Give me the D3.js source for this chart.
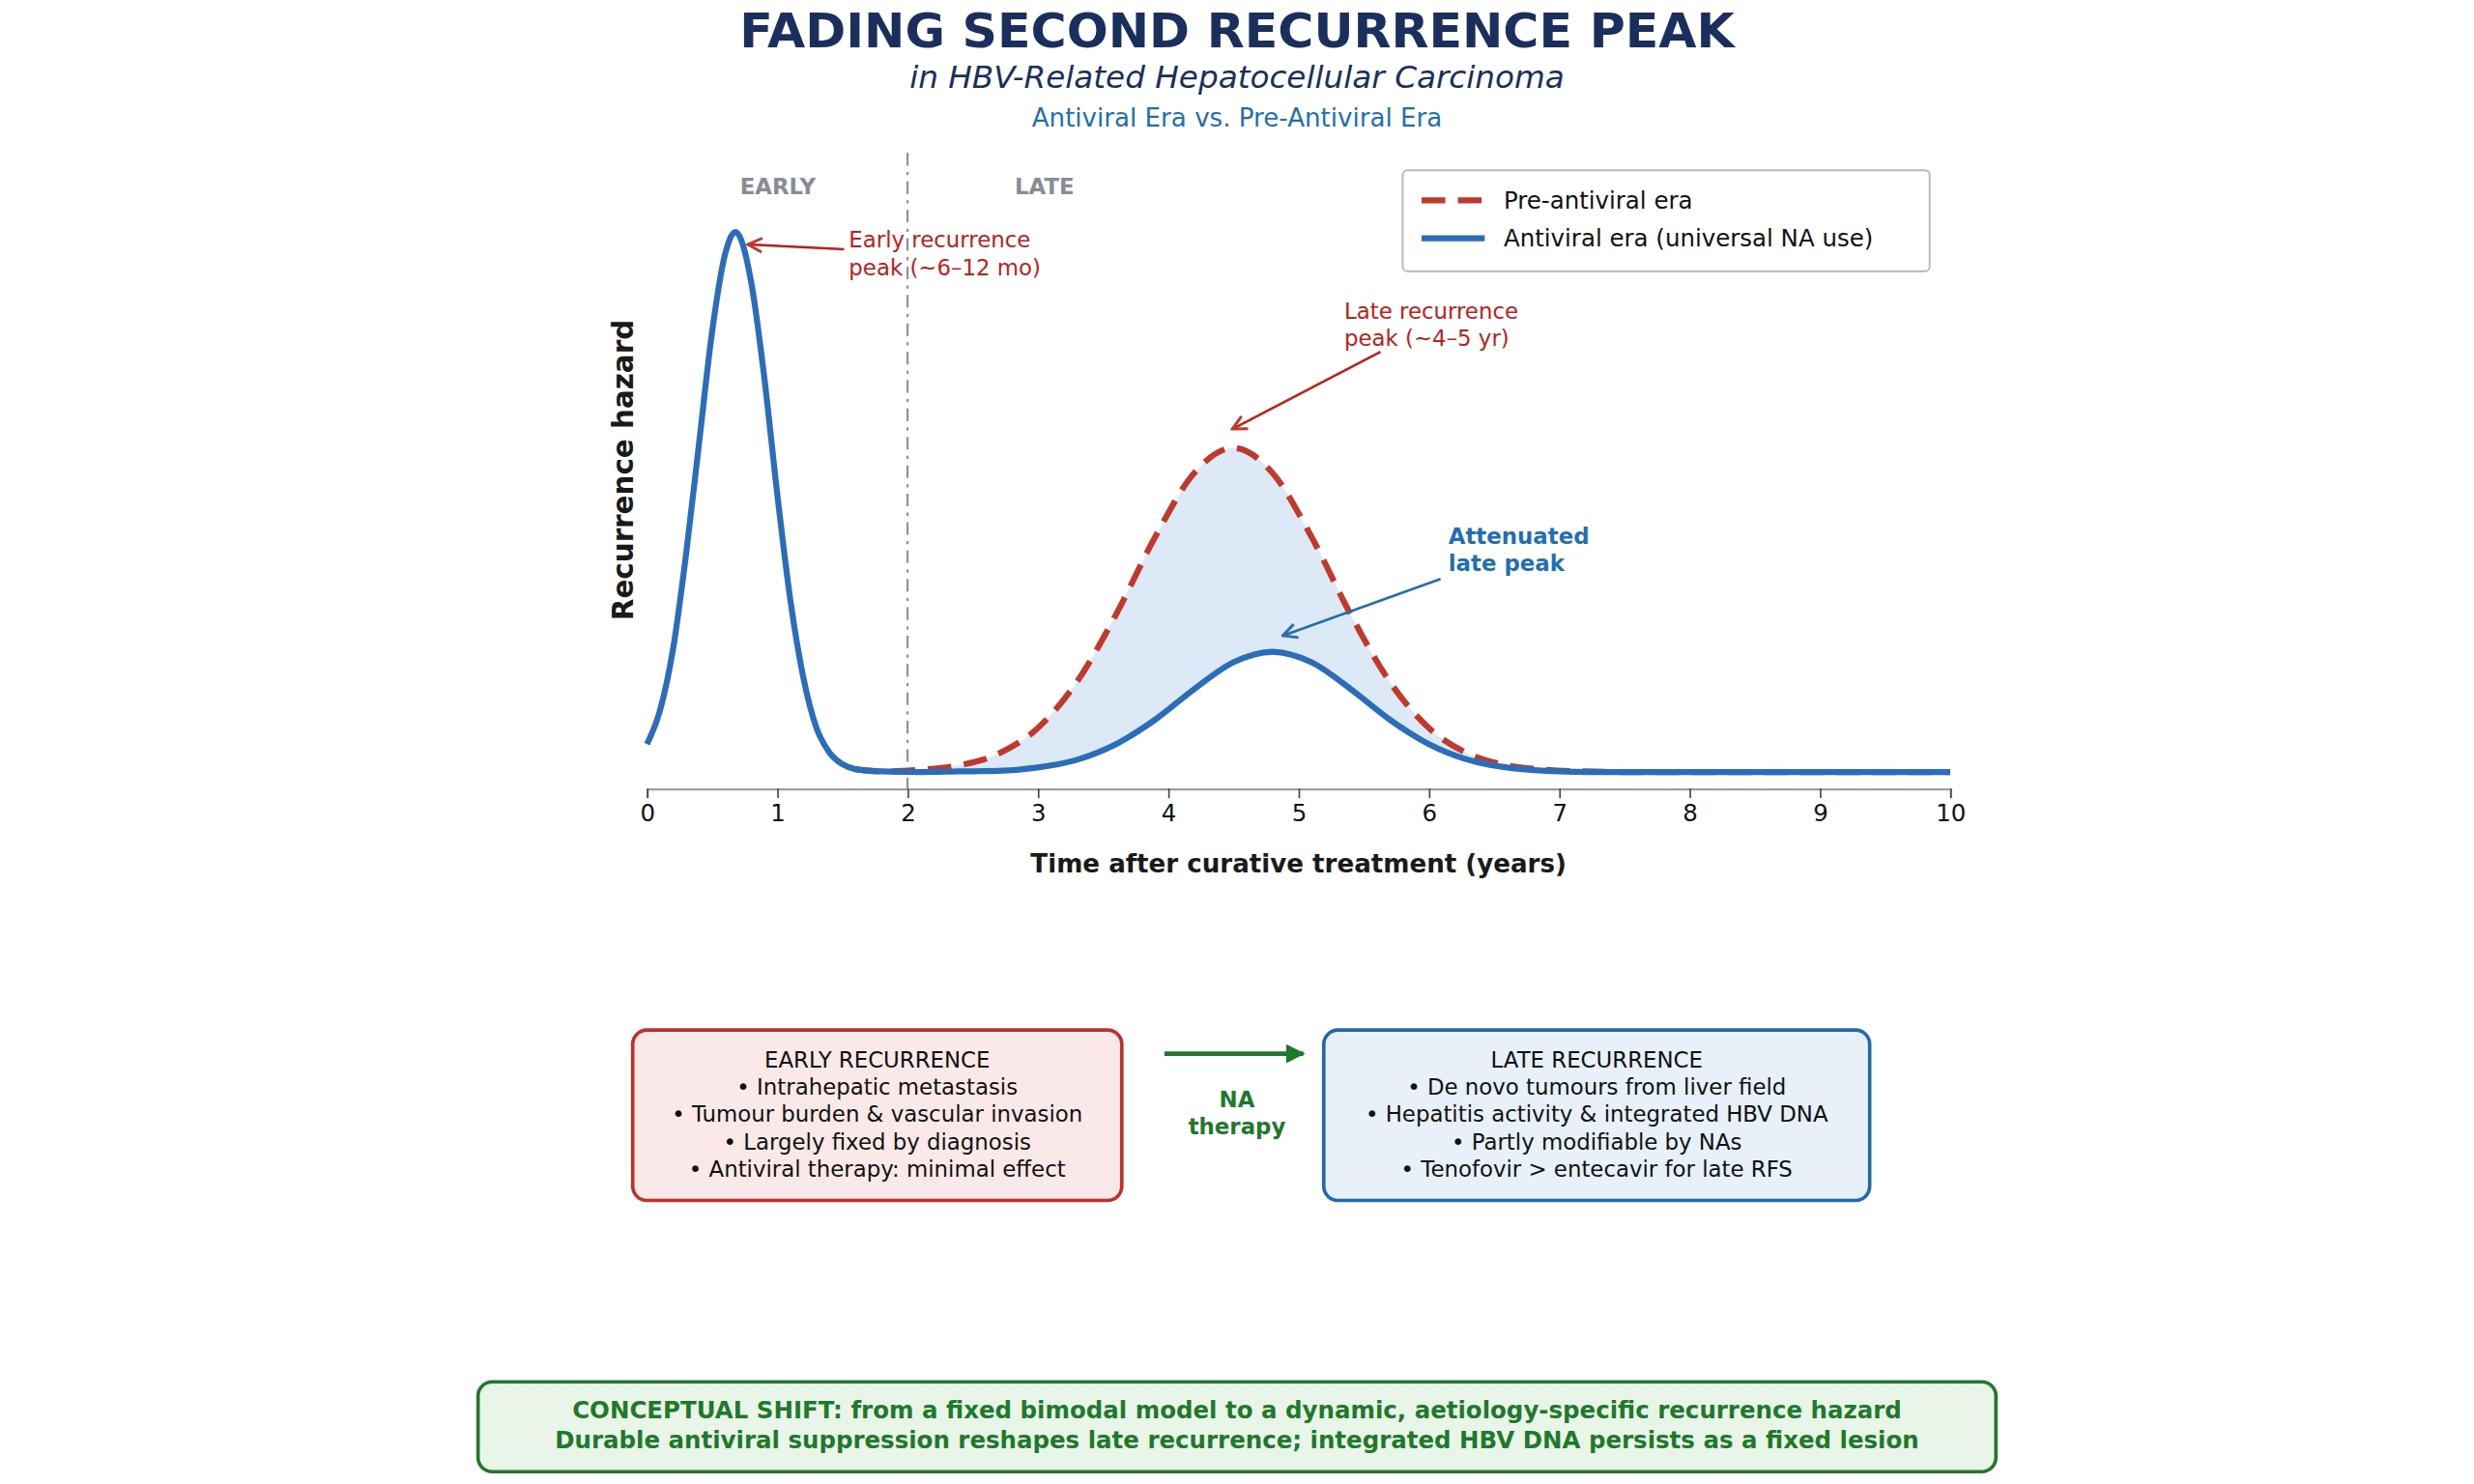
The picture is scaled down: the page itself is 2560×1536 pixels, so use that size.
<!DOCTYPE html>
<html>
<head>
<meta charset="utf-8">
<script src="https://cdn.jsdelivr.net/npm/d3@7"></script>
<style>
  body { margin: 0; background: #fff; }
  svg { display: block; font-family: "DejaVu Sans", sans-serif; }
</style>
</head>
<body>
<svg id="chart" width="2560" height="1536" viewBox="0 0 1568 940.8"></svg>
<script>
// values (hazard, relative units)
var years = [0, 0.1, 0.2, 0.3, 0.4, 0.5, 0.6, 0.68, 0.8, 0.9, 1.0, 1.1, 1.2, 1.3, 1.4, 1.5, 1.6, 1.8,
             2.1, 2.4, 2.7, 3.0, 3.3, 3.6, 3.9, 4.2, 4.5, 4.8, 5.1, 5.4, 5.7, 6.0, 6.3, 6.6, 6.9, 7.2, 7.5, 8, 9, 10];
var preAntiviral = [0.08, 0.14, 0.25, 0.42, 0.62, 0.82, 0.96, 1.0, 0.91, 0.74, 0.53, 0.34, 0.20, 0.11, 0.065, 0.044, 0.035, 0.031,
             0.034, 0.042, 0.063, 0.109, 0.192, 0.313, 0.452, 0.567, 0.612, 0.567, 0.452, 0.313, 0.192, 0.109, 0.063, 0.042, 0.034, 0.031, 0.03, 0.03, 0.03, 0.03];
var antiviral = [0.08, 0.14, 0.25, 0.42, 0.62, 0.82, 0.96, 1.0, 0.91, 0.74, 0.53, 0.34, 0.20, 0.11, 0.065, 0.044, 0.035, 0.031,
             0.030, 0.031, 0.032, 0.038, 0.052, 0.080, 0.124, 0.179, 0.227, 0.246, 0.227, 0.179, 0.124, 0.080, 0.052, 0.038, 0.032, 0.030, 0.03, 0.03, 0.03, 0.03];
var xTicks = [0, 1, 2, 3, 4, 5, 6, 7, 8, 9, 10];

var earlyLines = ['EARLY RECURRENCE', '• Intrahepatic metastasis', '• Tumour burden & vascular invasion',
                  '• Largely fixed by diagnosis', '• Antiviral therapy: minimal effect'];
var lateLines = ['LATE RECURRENCE', '• De novo tumours from liver field', '• Hepatitis activity & integrated HBV DNA',
                 '• Partly modifiable by NAs', '• Tenofovir > entecavir for late RFS'];
var shiftLines = ['CONCEPTUAL SHIFT: from a fixed bimodal model to a dynamic, aetiology-specific recurrence hazard',
                  'Durable antiviral suppression reshapes late recurrence; integrated HBV DNA persists as a fixed lesion'];

const red = '#c0392b', blue = '#2a6ebb', navy = '#1b2f5e', green = '#1e7a2a';
const svg = d3.select('#chart');

const defs = svg.append('defs');
function marker(id, color) {
    defs.append('marker').attr('id', id).attr('viewBox', '0 0 10 10')
        .attr('refX', 9).attr('refY', 5).attr('markerWidth', 7).attr('markerHeight', 7)
        .attr('orient', 'auto-start-reverse')
        .append('path').attr('d', 'M1,1 L9,5 L1,9').attr('fill', 'none')
        .attr('stroke', color).attr('stroke-width', 1.6);
}
marker('arRed', red); marker('arBlue', blue);
defs.append('marker').attr('id', 'arGreen').attr('viewBox', '0 0 10 10')
    .attr('refX', 9).attr('refY', 5).attr('markerWidth', 4).attr('markerHeight', 4).attr('orient', 'auto')
    .append('path').attr('d', 'M0,0 L10,5 L0,10 Z').attr('fill', green);

// titles
svg.append('text').attr('x', 784).attr('y', 30).attr('text-anchor', 'middle')
    .attr('font-size', 31).attr('font-weight', 'bold').attr('fill', navy).text('FADING SECOND RECURRENCE PEAK');
svg.append('text').attr('x', 784).attr('y', 56).attr('text-anchor', 'middle')
    .attr('font-size', 20).attr('font-style', 'italic').attr('fill', navy).text('in HBV-Related Hepatocellular Carcinoma');
svg.append('text').attr('x', 784).attr('y', 80).attr('text-anchor', 'middle')
    .attr('font-size', 16).attr('fill', '#1f6fb5').text('Antiviral Era vs. Pre-Antiviral Era');

// scales
const xScale = d3.scaleLinear().domain([0, 10]).range([410, 1236]);
const yScale = d3.scaleLinear().domain([0, 1]).range([500, 147]);

const pts = years.map(function (d, i) { return { x: d, pre: preAntiviral[i], av: antiviral[i] }; });

// shaded gap
const band = pts.filter(function (d) { return d.x >= 1.8 && d.x <= 7.5; });
svg.append('path').datum(band)
    .attr('fill', '#dde9f7')
    .attr('d', d3.area().curve(d3.curveMonotoneX)
        .x(function (d) { return xScale(d.x); })
        .y0(function (d) { return yScale(d.av); })
        .y1(function (d) { return yScale(d.pre); }));

// divider
svg.append('line').attr('x1', xScale(2)).attr('x2', xScale(2)).attr('y1', 97).attr('y2', 500)
    .attr('stroke', '#8a8f98').attr('stroke-width', 1.3).attr('stroke-dasharray', '8,4,2,4');
svg.append('text').attr('x', 493).attr('y', 123).attr('text-anchor', 'middle').attr('font-size', 14)
    .attr('font-weight', 'bold').attr('fill', '#888c94').text('EARLY');
svg.append('text').attr('x', 662).attr('y', 123).attr('text-anchor', 'middle').attr('font-size', 14)
    .attr('font-weight', 'bold').attr('fill', '#888c94').text('LATE');

// x axis
const xAxis = svg.append('g').attr('transform', 'translate(0,500)')
    .call(d3.axisBottom(xScale).tickValues(xTicks).tickSize(6).tickPadding(4).tickFormat(d3.format('d')));
xAxis.select('.domain').attr('stroke', '#9a9ea6').attr('stroke-width', 1.3);
xAxis.selectAll('.tick line').attr('stroke', '#444');
xAxis.selectAll('text').attr('font-size', 15).attr('fill', '#111').attr('font-family', 'DejaVu Sans');

svg.append('text').attr('x', 823).attr('y', 553).attr('text-anchor', 'middle').attr('font-size', 16)
    .attr('font-weight', 'bold').attr('fill', '#1a1a1a').text('Time after curative treatment (years)');
svg.append('text').attr('transform', 'translate(401,298) rotate(-90)').attr('text-anchor', 'middle')
    .attr('font-size', 18).attr('font-weight', 'bold').attr('fill', '#1a1a1a').text('Recurrence hazard');

// curves
function line(key) {
    return d3.line().curve(d3.curveMonotoneX)
        .x(function (d) { return xScale(d.x); })
        .y(function (d) { return yScale(d[key]); });
}
svg.append('path').datum(pts.filter(function (d) { return d.x >= 1.6; }))
    .attr('fill', 'none').attr('stroke', red).attr('stroke-width', 3.8)
    .attr('stroke-dasharray', '15,8').attr('d', line('pre'));
svg.append('path').datum(pts)
    .attr('fill', 'none').attr('stroke', blue).attr('stroke-width', 3.8).attr('d', line('av'));

// annotations
function multi(x, y, lines, color, bold, anchor) {
    const t = svg.append('text').attr('x', x).attr('y', y).attr('font-size', 14).attr('fill', color)
        .attr('text-anchor', anchor || 'start').attr('font-weight', bold ? 'bold' : 'normal');
    lines.forEach(function (l, i) { t.append('tspan').attr('x', x).attr('dy', i ? 17.3 : 0).text(l); });
    return t;
}
function arrow(x1, y1, x2, y2, m, color) {
    svg.append('line').attr('x1', x1).attr('y1', y1).attr('x2', x2).attr('y2', y2)
        .attr('stroke', color).attr('stroke-width', 1.6).attr('marker-end', 'url(#' + m + ')');
}
multi(538, 157, ['Early recurrence', 'peak (~6–12 mo)'], '#c0201a');
arrow(535, 158, 474, 155, 'arRed', '#c0201a');
multi(852, 202, ['Late recurrence', 'peak (~4–5 yr)'], '#c0201a');
arrow(875, 223, 781, 272, 'arRed', '#c0201a');
multi(918, 345, ['Attenuated', 'late peak'], '#1f6fb5', true);
arrow(913, 367, 813, 403, 'arBlue', '#1f6fb5');

// legend
const lg = svg.append('g');
lg.append('rect').attr('x', 889).attr('y', 108).attr('width', 334).attr('height', 64).attr('rx', 3)
    .attr('fill', '#fff').attr('stroke', '#b8b8b8').attr('stroke-width', 1.2);
lg.append('line').attr('x1', 901).attr('x2', 941).attr('y1', 127).attr('y2', 127)
    .attr('stroke', red).attr('stroke-width', 3.8).attr('stroke-dasharray', '15,8');
lg.append('line').attr('x1', 901).attr('x2', 941).attr('y1', 151).attr('y2', 151)
    .attr('stroke', blue).attr('stroke-width', 3.8);
lg.append('text').attr('x', 953).attr('y', 132).attr('font-size', 15).attr('fill', '#111').text('Pre-antiviral era');
lg.append('text').attr('x', 953).attr('y', 156).attr('font-size', 15).attr('fill', '#111').text('Antiviral era (universal NA use)');

// boxes
function box(x, y, w, h, fill, stroke, lines, size, color, bold, dy) {
    svg.append('rect').attr('x', x).attr('y', y).attr('width', w).attr('height', h).attr('rx', 9)
        .attr('fill', fill).attr('stroke', stroke).attr('stroke-width', 2.2);
    const t = svg.append('text').attr('text-anchor', 'middle').attr('font-size', size).attr('fill', color)
        .attr('font-weight', bold ? 'bold' : 'normal').attr('y', y + (lines.length > 2 ? 24 : 23));
    lines.forEach(function (l, i) { t.append('tspan').attr('x', x + w / 2).attr('dy', i ? dy : 0).text(l); });
}
box(401, 653, 310, 108, '#fbe9e9', '#c0302a', earlyLines, 14, '#111', false, 17.2);
box(839, 653, 346, 108, '#e8f0fa', '#2068b0', lateLines, 14, '#111', false, 17.2);
box(303, 876, 962, 57, '#eaf5ea', green, shiftLines, 15, green, true, 19);

svg.append('line').attr('x1', 738).attr('x2', 826).attr('y1', 668).attr('y2', 668)
    .attr('stroke', green).attr('stroke-width', 3).attr('marker-end', 'url(#arGreen)');
multi(784, 702, ['NA', 'therapy'], green, true, 'middle');
</script>
</body>
</html>
